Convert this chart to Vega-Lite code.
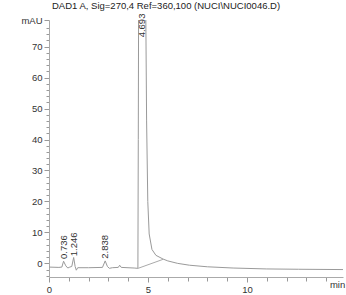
{
  "$schema": "https://vega.github.io/schema/vega-lite/v6.json",
  "width": 294,
  "height": 257,
  "autosize": {"type": "none"},
  "padding": {"left": 49, "top": 20, "right": 3, "bottom": 18},
  "background": "white",
  "config": {
    "view": {"stroke": null},
    "font": "Liberation Sans"
  },
  "title": {
    "text": "DAD1 A, Sig=270,4 Ref=360,100 (NUCI\\NUCI0046.D)",
    "anchor": "start",
    "frame": "group",
    "dx": 3,
    "offset": -5,
    "baseline": "alphabetic",
    "fontSize": 9.5,
    "fontWeight": "normal",
    "color": "#222",
    "font": "Liberation Sans"
  },
  "datasets": {
    "signal": [
      {"t": 0.0, "v": -1.2}, {"t": 0.5, "v": -1.3}, {"t": 0.65, "v": -1.2},
      {"t": 0.736, "v": 0.7}, {"t": 0.85, "v": -0.8}, {"t": 0.95, "v": -1.5},
      {"t": 1.05, "v": -1.2}, {"t": 1.15, "v": -1.0}, {"t": 1.246, "v": 1.9},
      {"t": 1.32, "v": -1.0}, {"t": 1.38, "v": -2.2}, {"t": 1.45, "v": -1.4},
      {"t": 2.0, "v": -1.4}, {"t": 2.7, "v": -1.3}, {"t": 2.838, "v": 0.8},
      {"t": 2.95, "v": -1.0}, {"t": 3.05, "v": -1.6}, {"t": 3.2, "v": -1.4},
      {"t": 3.5, "v": -1.3}, {"t": 3.57, "v": -0.6}, {"t": 3.65, "v": -1.3},
      {"t": 4.3, "v": -1.5}, {"t": 4.49, "v": -1.6}, {"t": 4.51, "v": 40},
      {"t": 4.525, "v": 80}, {"t": 4.693, "v": 80.5}, {"t": 4.89, "v": 80},
      {"t": 4.93, "v": 46}, {"t": 4.99, "v": 20}, {"t": 5.06, "v": 9.5},
      {"t": 5.2, "v": 4.5}, {"t": 5.4, "v": 2.6}, {"t": 5.76, "v": 1.4},
      {"t": 6.0, "v": 0.8}, {"t": 6.5, "v": 0.0}, {"t": 7.1, "v": -0.6},
      {"t": 8.0, "v": -1.1}, {"t": 9.3, "v": -1.5}, {"t": 11.0, "v": -1.8},
      {"t": 12.6, "v": -1.9}, {"t": 14.85, "v": -2.0}
    ],
    "baseline": [
      {"t": 4.5, "v": -1.6, "t2": 5.76, "v2": 1.3}
    ],
    "peaks": [
      {"t": 0.736, "lv": 1.4, "rt": "0.736"},
      {"t": 1.246, "lv": 2.3, "rt": "1.246"},
      {"t": 2.838, "lv": 1.5, "rt": "2.838"},
      {"t": 4.693, "lv": 73, "rt": "4.693"}
    ]
  },
  "encoding": {
    "x": {
      "field": "t", "type": "quantitative",
      "scale": {"domain": [0, 14.85], "nice": false, "zero": false},
      "axis": {
        "title": null,
        "grid": false,
        "values": [0, 1, 2, 3, 4, 5, 6, 7, 8, 9, 10, 11, 12, 13, 14, 14.55],
        "labelExpr": "datum.value > 14.5 ? 'min' : (datum.value % 5 === 0 ? datum.label : '')",
        "tickSize": {"expr": "datum.value > 14.5 ? 0 : (datum.value % 5 === 0 ? 5 : 4)"},
        "labelFlush": false,
        "labelOverlap": false,
        "labelFontSize": 9.5,
        "labelColor": "#333",
        "labelPadding": 2,
        "domainColor": "#aaa",
        "tickColor": "#999"
      }
    },
    "y": {
      "field": "v", "type": "quantitative",
      "scale": {"domain": [-4.4, 78.6], "nice": false, "zero": false},
      "axis": {
        "title": null,
        "grid": false,
        "values": [-4, -2, 0, 2, 4, 6, 8, 10, 12, 14, 16, 18, 20, 22, 24, 26, 28, 30, 32, 34, 36, 38, 40, 42, 44, 46, 48, 50, 52, 54, 56, 58, 60, 62, 64, 66, 68, 70, 72, 74, 76, 78.6],
        "labelExpr": "datum.value > 78 ? 'mAU' : (datum.value % 10 === 0 ? datum.label : '')",
        "tickSize": {"expr": "datum.value % 10 === 0 || datum.value > 78 ? 5 : 3"},
        "labelOverlap": false,
        "labelFlush": false,
        "labelFontSize": 9.5,
        "labelColor": "#333",
        "labelPadding": 2,
        "domainColor": "#aaa",
        "tickColor": "#999"
      }
    }
  },
  "layer": [
    {
      "data": {"name": "signal"},
      "mark": {"type": "line", "color": "#9a9a9a", "strokeWidth": 1, "clip": true, "interpolate": "linear"}
    },
    {
      "data": {"name": "baseline"},
      "mark": {"type": "rule", "color": "#aaa", "strokeWidth": 1},
      "encoding": {
        "x2": {"field": "t2"},
        "y2": {"field": "v2"}
      }
    },
    {
      "data": {"name": "peaks"},
      "mark": {"type": "text", "angle": 270, "align": "left", "baseline": "middle", "fontSize": 9.5, "color": "#333", "font": "Liberation Sans"},
      "encoding": {
        "y": {"field": "lv", "type": "quantitative"},
        "text": {"field": "rt"}
      }
    }
  ]
}
